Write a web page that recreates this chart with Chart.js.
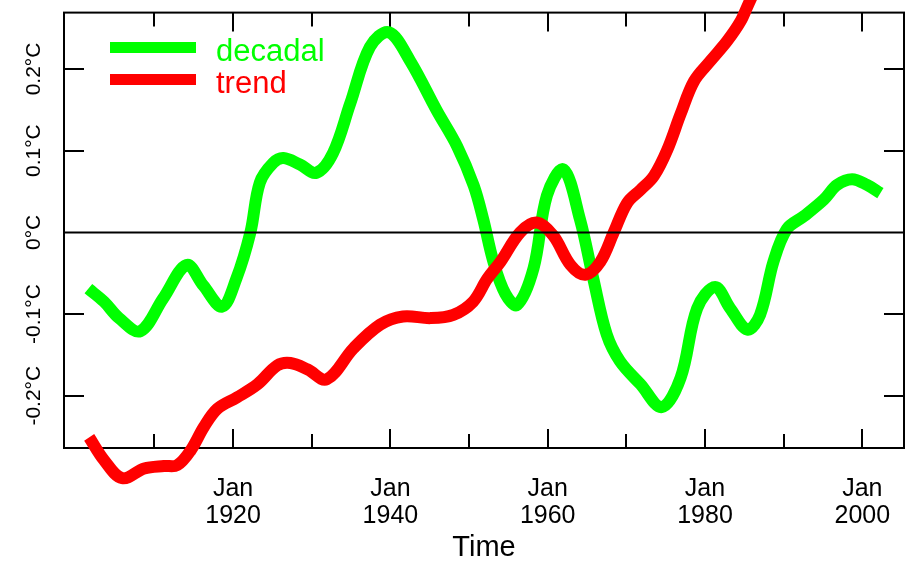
<!DOCTYPE html>
<html>
<head>
<meta charset="utf-8">
<title>Decadal and trend temperature</title>
<script src="https://cdn.jsdelivr.net/npm/chart.js@4.4.0/dist/chart.umd.min.js"></script>
<style>
  html, body { margin: 0; padding: 0; background: #fff; }
</style>
</head>
<body>
<canvas id="tempChart" width="909" height="561"></canvas>
<script>
// series (year, °C)
const decadalYears = [1901.6, 1903.6, 1905.5, 1908.2, 1911.1, 1914.1, 1916.2, 1918.6, 1920.4, 1922.2,
  1923.4, 1925.1, 1926.4, 1928.5, 1930.6, 1932.7, 1934.9, 1937.4, 1939.8, 1942.5,
  1945.9, 1948.5, 1950.6, 1951.8, 1953.1, 1954.6, 1956.1, 1958.2, 1959.9, 1962.0,
  1964.1, 1965.8, 1967.5, 1969.2, 1971.8, 1974.5, 1976.9, 1979.0, 1981.3, 1983.2,
  1985.4, 1987.0, 1988.7, 1990.4, 1992.6, 1995.1, 1996.8, 1998.7, 2000.6, 2002.3];
const decadalValues = [-0.069, -0.085, -0.105, -0.121, -0.081, -0.040, -0.065, -0.091, -0.057, 0.000,
  0.061, 0.085, 0.091, 0.083, 0.073, 0.097, 0.158, 0.227, 0.245, 0.210,
  0.149, 0.105, 0.057, 0.016, -0.036, -0.075, -0.089, -0.044, 0.045, 0.077,
  0.016, -0.057, -0.125, -0.158, -0.186, -0.214, -0.178, -0.093, -0.067, -0.093,
  -0.119, -0.101, -0.036, 0.004, 0.020, 0.040, 0.058, 0.065, 0.058, 0.048];

const trendYears = [1901.7, 1903.6, 1905.9, 1908.7, 1911.2, 1912.9, 1914.6, 1916.3, 1918.0, 1920.5,
  1923.1, 1925.6, 1927.3, 1929.5, 1931.9, 1935.3, 1938.7, 1941.6, 1945.1, 1948.0,
  1950.5, 1952.3, 1954.0, 1956.5, 1958.6, 1960.7, 1962.9, 1964.8, 1966.7, 1968.4,
  1970.1, 1971.8, 1973.5, 1975.2, 1976.9, 1978.6, 1980.7, 1982.8, 1984.5, 1985.5, 1986.5];
const trendValues = [-0.251, -0.279, -0.301, -0.289, -0.286, -0.285, -0.267, -0.238, -0.216, -0.202,
  -0.186, -0.163, -0.160, -0.168, -0.180, -0.142, -0.113, -0.103, -0.105, -0.101,
  -0.085, -0.057, -0.036, 0.000, 0.012, -0.004, -0.040, -0.052, -0.036, 0.000,
  0.036, 0.052, 0.069, 0.101, 0.145, 0.185, 0.210, 0.234, 0.258, 0.279, 0.300];

const labelYears = [1920, 1940, 1960, 1980, 2000];
const minorYears = [1910, 1920, 1930, 1940, 1950, 1960, 1970, 1980, 1990, 2000];
const yTickValues = [-0.2, -0.1, 0, 0.1, 0.2];
const yTickLabels = ["-0.2°C", "-0.1°C", "0°C", "0.1°C", "0.2°C"];

const FONT = "'Liberation Sans', Arial, sans-serif";

function points(xs, ys) {
  return xs.map((x, i) => ({ x: x, y: ys[i] }));
}

// box, inward ticks, zero line and legend
const framePlugin = {
  id: "frame",
  beforeDatasetsDraw(chart) {
    const { ctx, chartArea: a, scales } = chart;
    ctx.save();
    ctx.strokeStyle = "#000";
    ctx.lineWidth = 2;
    ctx.strokeRect(a.left, a.top, a.right - a.left, a.bottom - a.top);
    ctx.beginPath();
    minorYears.forEach((yr) => {
      const px = Math.round(scales.x.getPixelForValue(yr));
      const len = labelYears.includes(yr) ? 19 : 14;
      ctx.moveTo(px, a.bottom);
      ctx.lineTo(px, a.bottom - len);
      ctx.moveTo(px, a.top);
      ctx.lineTo(px, a.top + len);
    });
    yTickValues.forEach((v) => {
      if (v === 0) return;
      const py = Math.round(scales.y.getPixelForValue(v));
      ctx.moveTo(a.left, py);
      ctx.lineTo(a.left + 20, py);
      ctx.moveTo(a.right, py);
      ctx.lineTo(a.right - 20, py);
    });
    ctx.stroke();
    ctx.restore();
  },
  afterDatasetsDraw(chart) {
    const { ctx, chartArea: a, scales } = chart;
    ctx.save();
    const zy = Math.round(scales.y.getPixelForValue(0)) + 0.5;
    ctx.strokeStyle = "#000";
    ctx.lineWidth = 2;
    ctx.beginPath();
    ctx.moveTo(a.left, zy);
    ctx.lineTo(a.right, zy);
    ctx.stroke();

    // legend
    ctx.font = "31px " + FONT;
    ctx.textBaseline = "alphabetic";
    chart.data.datasets.forEach((ds, i) => {
      const ly = 47.5 + i * 32;
      ctx.strokeStyle = ds.borderColor;
      ctx.lineWidth = 11;
      ctx.beginPath();
      ctx.moveTo(110, ly);
      ctx.lineTo(196, ly);
      ctx.stroke();
      ctx.fillStyle = ds.borderColor;
      ctx.fillText(ds.label, 216, ly + 13);
    });
    ctx.restore();
  },
};

new Chart(document.getElementById("tempChart"), {
  type: "line",
  data: {
    datasets: [
      {
        label: "decadal",
        data: points(decadalYears, decadalValues),
        borderColor: "#00ff00",
        backgroundColor: "#00ff00",
        order: 2,
      },
      {
        label: "trend",
        data: points(trendYears, trendValues),
        borderColor: "#ff0000",
        backgroundColor: "#ff0000",
        order: 1,
      },
    ],
  },
  options: {
    responsive: false,
    animation: false,
    layout: { padding: { top: 8, right: 5, left: 0, bottom: 0 } },
    elements: {
      line: { borderWidth: 12, tension: 0.35, borderJoinStyle: "round", fill: false },
      point: { radius: 0, hoverRadius: 0 },
    },
    datasets: { line: { clip: false } },
    plugins: {
      legend: { display: false },
      tooltip: { enabled: false },
    },
    scales: {
      x: {
        type: "linear",
        min: 1898.5,
        max: 2005.3,
        // tick marks are drawn by the frame plugin; tickLength only spaces the labels
        grid: { display: false, drawTicks: true, tickLength: 27 },
        border: { display: false },
        afterBuildTicks: (scale) => {
          scale.ticks = labelYears.map((v) => ({ value: v }));
        },
        afterFit: (scale) => {
          scale.height = 113;
        },
        ticks: {
          color: "#000",
          padding: 0,
          maxRotation: 0,
          font: { family: FONT, size: 25, lineHeight: 1.1 },
          callback: (v) => ["Jan", String(v)],
        },
        title: {
          display: true,
          text: "Time",
          color: "#000",
          padding: 0,
          font: { family: FONT, size: 29, lineHeight: 0.9 },
        },
      },
      y: {
        min: -0.264,
        max: 0.269,
        grid: { display: false, drawTicks: false },
        border: { display: false },
        afterBuildTicks: (scale) => {
          scale.ticks = yTickValues.map((v) => ({ value: v }));
        },
        afterFit: (scale) => {
          scale.width = 64;
        },
        ticks: {
          color: "#000",
          padding: 0,
          minRotation: 90,
          maxRotation: 90,
          crossAlign: "center",
          font: { family: FONT, size: 21 },
          callback: (v) => yTickLabels[yTickValues.indexOf(v)],
        },
      },
    },
  },
  plugins: [framePlugin],
});
</script>
</body>
</html>
